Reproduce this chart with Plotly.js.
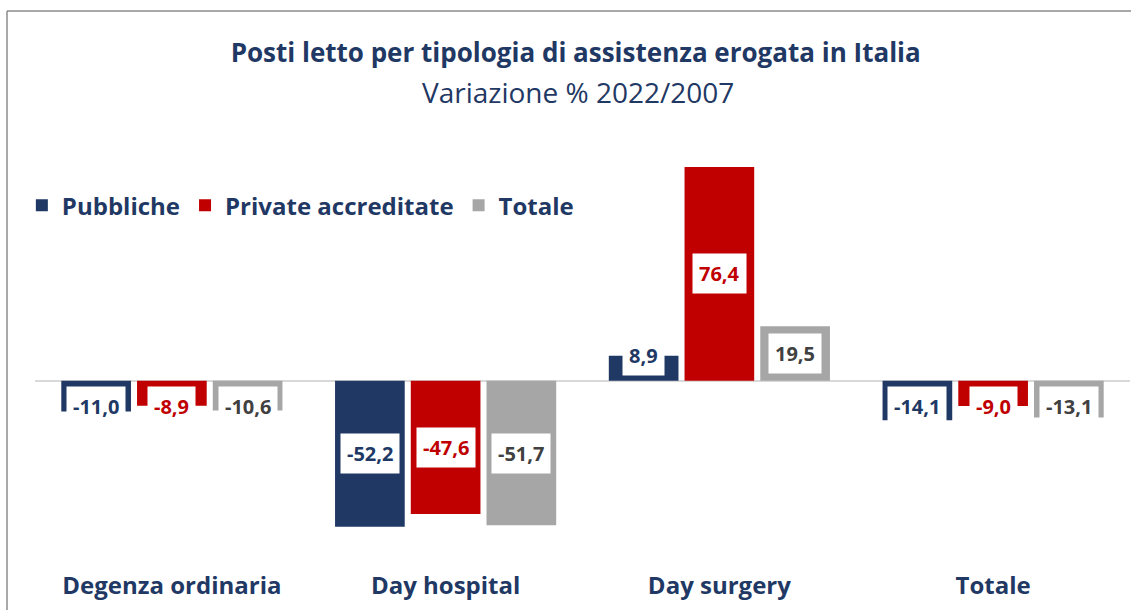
<!DOCTYPE html>
<html>
<head>
<meta charset="utf-8">
<script src="https://cdn.plot.ly/plotly-3.0.1.min.js"></script>
<style>html,body{margin:0;padding:0;background:#fff;}#chart{width:1131px;height:610px;}</style>
</head>
<body>
<div id="chart"></div>
<script>
const categories = ["Degenza ordinaria", "Day hospital", "Day surgery", "Totale"];
const seriesNames = ["Pubbliche", "Private accreditate", "Totale"];
const pubbliche = [-11.0, -52.2, 8.9, -14.1];
const privateAccreditate = [-8.9, -47.6, 76.4, -9.0];
const totale = [-10.6, -51.7, 19.5, -13.1];
const titleText = "Posti letto per tipologia di assistenza erogata in Italia";
const subtitleText = "Variazione % 2022/2007";

const seriesValues = [pubbliche, privateAccreditate, totale];
const barColors = ["#203864", "#c00000", "#a6a6a6"];
const labelColors = ["#203864", "#c00000", "#404040"];
const navy = "#1f3864";
const FONT = "'Open Sans', Lato, sans-serif";

const bargap = 0.17, bargroupgap = 0.08;
const nS = seriesValues.length;
const slot = (1 - bargap) / nS;

const traces = seriesValues.map((vals, j) => ({
  type: "bar",
  name: seriesNames[j],
  x: categories,
  y: vals,
  marker: {color: barColors[j], line: {width: 0}},
  hoverinfo: "skip"
}));

const annotations = [];
seriesValues.forEach((vals, j) => {
  vals.forEach((v, i) => {
    const off = (j - (nS - 1) / 2) * slot;
    const ly = Math.sign(v) * Math.max(Math.abs(v) / 2, 9.2);
    annotations.push({
      x: i + off, y: ly, xref: "x", yref: "y",
      text: "<b>" + v.toFixed(1).replace(".", ",") + "</b>",
      showarrow: false,
      font: {family: FONT, size: 20, color: labelColors[j]},
      bgcolor: "#ffffff",
      borderpad: 6,
      xanchor: "center", yanchor: "middle"
    });
  });
});

annotations.push({
  xref: "paper", yref: "paper", x: (578 - 35) / 1095, y: (571 - 92) / 414,
  text: subtitleText, showarrow: false,
  font: {family: FONT, size: 28, color: navy},
  xanchor: "center", yanchor: "middle"
});

const layout = {
  width: 1131, height: 610,
  margin: {l: 35, r: 1, t: 157, b: 41},
  paper_bgcolor: "#ffffff", plot_bgcolor: "#ffffff",
  barmode: "group", bargap: bargap, bargroupgap: bargroupgap,
  title: {
    text: "<b>" + titleText + "</b>",
    x: 0.509, xanchor: "center", xref: "container",
    y: 1 - 53 / 610, yanchor: "middle", yref: "container",
    font: {family: FONT, size: 26, color: navy}
  },
  xaxis: {
    type: "category",
    showgrid: false, showline: false, ticks: "",
    tickfont: {family: FONT, size: 24, color: navy, weight: "bold"},
    fixedrange: true
  },
  yaxis: {
    range: [-67.3, 80],
    showgrid: false, showticklabels: false, ticks: "",
    zeroline: true, zerolinecolor: "#d9d9d9", zerolinewidth: 2,
    showline: false, fixedrange: true
  },
  legend: {
    orientation: "h", x: -0.012, xanchor: "left", y: 0.882, yanchor: "middle",
    font: {family: FONT, size: 24, color: navy, weight: "bold"},
    traceorder: "normal", itemclick: false, itemdoubleclick: false
  },
  showlegend: true,
  annotations: annotations,
  shapes: [
    {type: "line", xref: "paper", yref: "paper", x0: (7 - 35) / 1095, x1: 1.01, y0: (569 - 11) / 412, y1: (569 - 11) / 412, line: {color: "#8c8c8c", width: 1.5}},
    {type: "line", xref: "paper", yref: "paper", x0: (7 - 35) / 1095, x1: (7 - 35) / 1095, y0: (569 - 11) / 412, y1: -0.2, line: {color: "#8c8c8c", width: 1.5}}
  ]
};

Plotly.newPlot("chart", traces, layout, {displayModeBar: false, staticPlot: true});
</script>
</body>
</html>
